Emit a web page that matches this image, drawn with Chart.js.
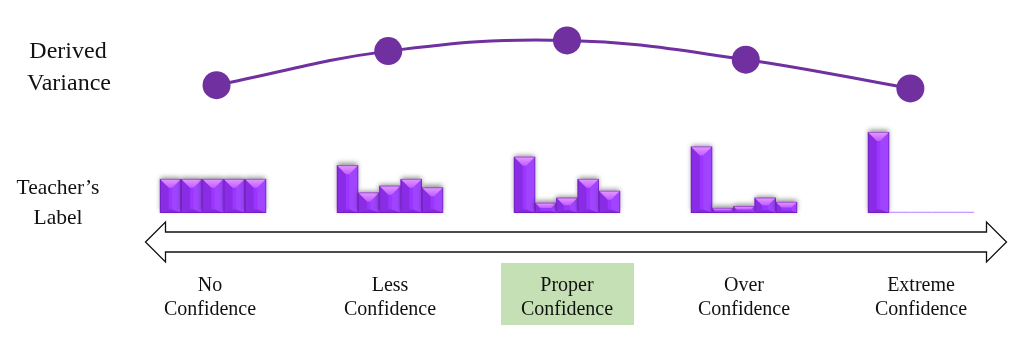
<!DOCTYPE html>
<html><head><meta charset="utf-8">
<script src="https://cdn.jsdelivr.net/npm/chart.js@4"></script>
<style>
html,body{margin:0;padding:0;background:#fff;}
#wrap{position:relative;width:1029px;height:341px;overflow:hidden;font-family:"Liberation Serif","Times New Roman",serif;color:#111;}
#c{position:absolute;left:0;top:0;}
.t{position:absolute;white-space:nowrap;transform:translate(-50%,-50%);line-height:1;}
#hl{position:absolute;background:#c5e0b4;}
</style></head>
<body><div id="wrap"><div id="hl"></div><canvas id="c" width="1029" height="341"></canvas></div>
<script>
// ---- data ----
const categories = ['No Confidence','Less Confidence','Proper Confidence','Over Confidence','Extreme Confidence'];
const highlightIndex = 2;
const derivedVariance = [0.60, 0.76, 0.81, 0.72, 0.585];
const varianceX = [0.02, 0.99, 2.0, 3.01, 3.94];
const labelNo      = [0.20, 0.20, 0.20, 0.20, 0.20];
const labelLess    = [0.28, 0.12, 0.16, 0.20, 0.15];
const labelProper  = [0.33, 0.06, 0.09, 0.20, 0.13];
const labelOver    = [0.39, 0.03, 0.04, 0.09, 0.065];
const labelExtreme = [0.475, 0.004, 0.004, 0.004, 0.004];
const rowTitles = [['Derived','Variance'],['Teacher\u2019s','Label']];

const groups = [labelNo, labelLess, labelProper, labelOver, labelExtreme];
const barStep = 0.12;
const barPoints = [];
groups.forEach((g, gi) => g.forEach((v, i) => barPoints.push({x: gi + (i - 2) * barStep, y: v})));
const linePoints = derivedVariance.map((v, i) => ({x: varianceX[i], y: v}));

const bevelPlugin = {
  id: 'bevel',
  afterDatasetsDraw(chart) {
    const ctx = chart.ctx;
    const meta = chart.getDatasetMeta(0);
    meta.data.forEach(el => {
      const p = el.getProps(['x','y','base','width'], true);
      const l = p.x - p.width/2, r = p.x + p.width/2, t = p.y, b = p.base, h = b - t;
      ctx.save();
      if (h < 2) { ctx.fillStyle = '#c59cff'; ctx.fillRect(l, b - 1.3, p.width, 1.3); ctx.restore(); return; }
      ctx.shadowColor = 'rgba(0,0,0,0.45)'; ctx.shadowBlur = 5; ctx.shadowOffsetY = -2;
      ctx.fillStyle = '#9a36ff'; ctx.fillRect(l, t, p.width, h);
      ctx.restore();
      ctx.save();
      const k = Math.min(p.width * 0.42, h / 2);
      const poly = (pts, col) => { ctx.beginPath(); ctx.moveTo(pts[0][0], pts[0][1]); pts.slice(1).forEach(q => ctx.lineTo(q[0], q[1])); ctx.closePath(); ctx.fillStyle = col; ctx.fill(); };
      poly([[l,t],[l+k,t+k],[l+k,b-k*0.4],[l,b]], '#8a2ce6');
      poly([[r,t],[r-k,t+k],[r-k,b-k*0.4],[r,b]], '#a044ff');
      poly([[l,b],[l+k,b-k*0.4],[r-k,b-k*0.4],[r,b]], '#8529dd');
      const g = ctx.createLinearGradient(0, t, 0, t + k);
      g.addColorStop(0, '#e59bff'); g.addColorStop(1, '#c25cff');
      poly([[l,t],[r,t],[r-k,t+k],[l+k,t+k]], g);
      ctx.strokeStyle = 'rgba(90,20,150,0.55)'; ctx.lineWidth = 0.8;
      ctx.strokeRect(l + 0.4, t + 0.4, p.width - 0.8, h - 0.8);
      ctx.restore();
    });
  },
  afterDraw(chart) {
    const ctx = chart.ctx;
    ctx.save();
    ctx.beginPath();
    ctx.moveTo(145.5, 242); ctx.lineTo(165.5, 222); ctx.lineTo(165.5, 232); ctx.lineTo(986.5, 232);
    ctx.lineTo(986.5, 222); ctx.lineTo(1006.5, 242); ctx.lineTo(986.5, 262); ctx.lineTo(986.5, 252);
    ctx.lineTo(165.5, 252); ctx.lineTo(165.5, 262); ctx.closePath();
    ctx.fillStyle = '#fff'; ctx.fill();
    ctx.strokeStyle = '#111'; ctx.lineWidth = 1.3; ctx.stroke();
    ctx.restore();
  }
};

const chart = new Chart(document.getElementById('c'), {
  type: 'bar',
  data: { datasets: [
    { type: 'bar', data: barPoints, xAxisID: 'x', yAxisID: 'yB', backgroundColor: 'rgba(0,0,0,0)', borderWidth: 0, barPercentage: 1, categoryPercentage: 1 },
    { type: 'line', data: linePoints, xAxisID: 'x', yAxisID: 'yL', borderColor: '#7030a0', borderWidth: 3,
      pointRadius: 14, pointBackgroundColor: '#7030a0', pointBorderWidth: 0, tension: 0.4, clip: false }
  ]},
  options: {
    responsive: false, animation: false,
    layout: { autoPadding: false, padding: { left: 124.5, right: 19.5, top: 0, bottom: 128 } },
    plugins: { legend: { display: false }, tooltip: { enabled: false } },
    scales: {
      x: { type: 'linear', min: -0.5, max: 4.5, offset: false, display: false },
      yB: { min: 0, max: 1.25, display: false },
      yL: { min: 0, max: 1, display: false }
    }
  },
  plugins: [bevelPlugin]
});

const wrap = document.getElementById('wrap');
function addText(txt, cx, cy, size) {
  const d = document.createElement('div'); d.className = 't';
  d.textContent = txt; d.style.left = cx + 'px'; d.style.top = cy + 'px'; d.style.fontSize = size + 'px';
  wrap.appendChild(d);
}
addText(rowTitles[0][0], 68, 50, 24); addText(rowTitles[0][1], 69, 82, 24);
addText(rowTitles[1][0], 58, 188, 21.5); addText(rowTitles[1][1], 58, 218, 21.5);
const xs = chart.scales.x;
categories.forEach((c, i) => {
  const parts = c.split(' ');
  const cx = xs.getPixelForValue(i) + (i === 0 ? -3 : 0);
  addText(parts[0], cx, 284, 20); addText(parts[1], cx, 308, 20);
  if (i === highlightIndex) {
    const hl = document.getElementById('hl');
    hl.style.left = (cx - 66) + 'px'; hl.style.top = '263px'; hl.style.width = '133px'; hl.style.height = '62px';
  }
});
</script></body></html>
